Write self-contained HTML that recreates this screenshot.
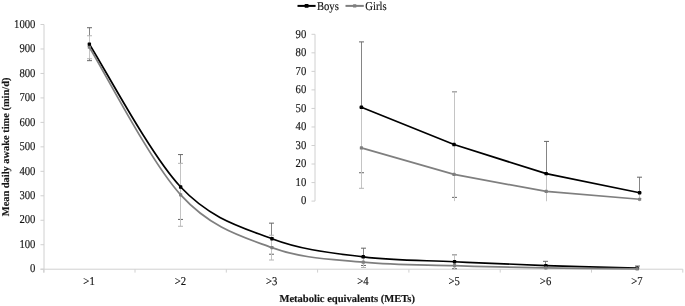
<!DOCTYPE html>
<html><head><meta charset="utf-8"><style>
html,body{margin:0;padding:0;background:#fff;width:685px;height:306px;overflow:hidden}
svg{display:block;will-change:transform;text-rendering:geometricPrecision}
</style></head><body>
<svg width="685" height="306" viewBox="0 0 685 306">
<rect width="685" height="306" fill="#fff"/>
<line x1="44.0" y1="24.5" x2="44.0" y2="272.59999999999997" stroke="#d0d0d0" stroke-width="1"/>
<line x1="40.5" y1="269.2" x2="682.8" y2="269.2" stroke="#d0d0d0" stroke-width="1"/>
<line x1="40.5" y1="269.20" x2="44.0" y2="269.20" stroke="#d0d0d0" stroke-width="1"/>
<text transform="translate(35.40,272.40) scale(0.89,1)" text-anchor="end" style="font-family:'Liberation Serif',serif;font-size:12.0px" fill="#141414" stroke="#141414" stroke-width="0.15">0</text>
<line x1="40.5" y1="244.73" x2="44.0" y2="244.73" stroke="#d0d0d0" stroke-width="1"/>
<text transform="translate(35.40,247.93) scale(0.89,1)" text-anchor="end" style="font-family:'Liberation Serif',serif;font-size:12.0px" fill="#141414" stroke="#141414" stroke-width="0.15">100</text>
<line x1="40.5" y1="220.26" x2="44.0" y2="220.26" stroke="#d0d0d0" stroke-width="1"/>
<text transform="translate(35.40,223.46) scale(0.89,1)" text-anchor="end" style="font-family:'Liberation Serif',serif;font-size:12.0px" fill="#141414" stroke="#141414" stroke-width="0.15">200</text>
<line x1="40.5" y1="195.79" x2="44.0" y2="195.79" stroke="#d0d0d0" stroke-width="1"/>
<text transform="translate(35.40,198.99) scale(0.89,1)" text-anchor="end" style="font-family:'Liberation Serif',serif;font-size:12.0px" fill="#141414" stroke="#141414" stroke-width="0.15">300</text>
<line x1="40.5" y1="171.32" x2="44.0" y2="171.32" stroke="#d0d0d0" stroke-width="1"/>
<text transform="translate(35.40,174.52) scale(0.89,1)" text-anchor="end" style="font-family:'Liberation Serif',serif;font-size:12.0px" fill="#141414" stroke="#141414" stroke-width="0.15">400</text>
<line x1="40.5" y1="146.85" x2="44.0" y2="146.85" stroke="#d0d0d0" stroke-width="1"/>
<text transform="translate(35.40,150.05) scale(0.89,1)" text-anchor="end" style="font-family:'Liberation Serif',serif;font-size:12.0px" fill="#141414" stroke="#141414" stroke-width="0.15">500</text>
<line x1="40.5" y1="122.38" x2="44.0" y2="122.38" stroke="#d0d0d0" stroke-width="1"/>
<text transform="translate(35.40,125.58) scale(0.89,1)" text-anchor="end" style="font-family:'Liberation Serif',serif;font-size:12.0px" fill="#141414" stroke="#141414" stroke-width="0.15">600</text>
<line x1="40.5" y1="97.91" x2="44.0" y2="97.91" stroke="#d0d0d0" stroke-width="1"/>
<text transform="translate(35.40,101.11) scale(0.89,1)" text-anchor="end" style="font-family:'Liberation Serif',serif;font-size:12.0px" fill="#141414" stroke="#141414" stroke-width="0.15">700</text>
<line x1="40.5" y1="73.44" x2="44.0" y2="73.44" stroke="#d0d0d0" stroke-width="1"/>
<text transform="translate(35.40,76.64) scale(0.89,1)" text-anchor="end" style="font-family:'Liberation Serif',serif;font-size:12.0px" fill="#141414" stroke="#141414" stroke-width="0.15">800</text>
<line x1="40.5" y1="48.97" x2="44.0" y2="48.97" stroke="#d0d0d0" stroke-width="1"/>
<text transform="translate(35.40,52.17) scale(0.89,1)" text-anchor="end" style="font-family:'Liberation Serif',serif;font-size:12.0px" fill="#141414" stroke="#141414" stroke-width="0.15">900</text>
<line x1="40.5" y1="24.50" x2="44.0" y2="24.50" stroke="#d0d0d0" stroke-width="1"/>
<text transform="translate(35.40,27.70) scale(0.89,1)" text-anchor="end" style="font-family:'Liberation Serif',serif;font-size:12.0px" fill="#141414" stroke="#141414" stroke-width="0.15">1000</text>
<line x1="43.70" y1="269.2" x2="43.70" y2="272.59999999999997" stroke="#d0d0d0" stroke-width="1"/>
<line x1="135.00" y1="269.2" x2="135.00" y2="272.59999999999997" stroke="#d0d0d0" stroke-width="1"/>
<line x1="226.30" y1="269.2" x2="226.30" y2="272.59999999999997" stroke="#d0d0d0" stroke-width="1"/>
<line x1="317.60" y1="269.2" x2="317.60" y2="272.59999999999997" stroke="#d0d0d0" stroke-width="1"/>
<line x1="408.90" y1="269.2" x2="408.90" y2="272.59999999999997" stroke="#d0d0d0" stroke-width="1"/>
<line x1="500.20" y1="269.2" x2="500.20" y2="272.59999999999997" stroke="#d0d0d0" stroke-width="1"/>
<line x1="591.50" y1="269.2" x2="591.50" y2="272.59999999999997" stroke="#d0d0d0" stroke-width="1"/>
<line x1="682.80" y1="269.2" x2="682.80" y2="272.59999999999997" stroke="#d0d0d0" stroke-width="1"/>
<text transform="translate(89.05,284.90) scale(0.89,1)" text-anchor="middle" style="font-family:'Liberation Serif',serif;font-size:12.0px" fill="#141414" stroke="#141414" stroke-width="0.15">&gt;1</text>
<text transform="translate(180.35,284.90) scale(0.89,1)" text-anchor="middle" style="font-family:'Liberation Serif',serif;font-size:12.0px" fill="#141414" stroke="#141414" stroke-width="0.15">&gt;2</text>
<text transform="translate(271.65,284.90) scale(0.89,1)" text-anchor="middle" style="font-family:'Liberation Serif',serif;font-size:12.0px" fill="#141414" stroke="#141414" stroke-width="0.15">&gt;3</text>
<text transform="translate(362.95,284.90) scale(0.89,1)" text-anchor="middle" style="font-family:'Liberation Serif',serif;font-size:12.0px" fill="#141414" stroke="#141414" stroke-width="0.15">&gt;4</text>
<text transform="translate(454.25,284.90) scale(0.89,1)" text-anchor="middle" style="font-family:'Liberation Serif',serif;font-size:12.0px" fill="#141414" stroke="#141414" stroke-width="0.15">&gt;5</text>
<text transform="translate(545.55,284.90) scale(0.89,1)" text-anchor="middle" style="font-family:'Liberation Serif',serif;font-size:12.0px" fill="#141414" stroke="#141414" stroke-width="0.15">&gt;6</text>
<text transform="translate(636.85,284.90) scale(0.89,1)" text-anchor="middle" style="font-family:'Liberation Serif',serif;font-size:12.0px" fill="#141414" stroke="#141414" stroke-width="0.15">&gt;7</text>
<text x="347.2" y="302.3" text-anchor="middle" style="font-family:'Liberation Serif',serif;font-size:10.55px;font-weight:bold" fill="#141414" stroke="#141414" stroke-width="0.15">Metabolic equivalents (METs)</text>
<text transform="translate(9.4,146.9) rotate(-90)" text-anchor="middle" style="font-family:'Liberation Serif',serif;font-size:10.4px;font-weight:bold" fill="#141414" stroke="#141414" stroke-width="0.15">Mean daily awake time (min/d)</text>
<line x1="89.50" y1="27.73" x2="89.50" y2="60.67" stroke="#858585" stroke-width="1"/><line x1="87.00" y1="27.73" x2="92.00" y2="27.73" stroke="#666666" stroke-width="1"/><line x1="87.00" y1="60.67" x2="92.00" y2="60.67" stroke="#666666" stroke-width="1"/>
<line x1="180.50" y1="154.58" x2="180.50" y2="219.43" stroke="#858585" stroke-width="1"/><line x1="178.00" y1="154.58" x2="183.00" y2="154.58" stroke="#666666" stroke-width="1"/><line x1="178.00" y1="219.43" x2="183.00" y2="219.43" stroke="#666666" stroke-width="1"/>
<line x1="271.50" y1="223.15" x2="271.50" y2="254.22" stroke="#858585" stroke-width="1"/><line x1="269.00" y1="223.15" x2="274.00" y2="223.15" stroke="#666666" stroke-width="1"/><line x1="269.00" y1="254.22" x2="274.00" y2="254.22" stroke="#666666" stroke-width="1"/>
<line x1="363.50" y1="248.18" x2="363.50" y2="265.46" stroke="#858585" stroke-width="1"/><line x1="361.00" y1="248.18" x2="366.00" y2="248.18" stroke="#666666" stroke-width="1"/><line x1="361.00" y1="265.46" x2="366.00" y2="265.46" stroke="#666666" stroke-width="1"/>
<line x1="454.50" y1="254.76" x2="454.50" y2="268.71" stroke="#858585" stroke-width="1"/><line x1="452.00" y1="254.76" x2="457.00" y2="254.76" stroke="#666666" stroke-width="1"/><line x1="452.00" y1="268.71" x2="457.00" y2="268.71" stroke="#666666" stroke-width="1"/>
<line x1="545.50" y1="261.32" x2="545.50" y2="269.20" stroke="#858585" stroke-width="1"/><line x1="543.00" y1="261.32" x2="548.00" y2="261.32" stroke="#666666" stroke-width="1"/>
<line x1="637.50" y1="266.04" x2="637.50" y2="269.20" stroke="#858585" stroke-width="1"/><line x1="635.00" y1="266.04" x2="640.00" y2="266.04" stroke="#666666" stroke-width="1"/>
<line x1="89.50" y1="35.76" x2="89.50" y2="58.76" stroke="#c4c4c4" stroke-width="1"/><line x1="87.00" y1="35.76" x2="92.00" y2="35.76" stroke="#b4b4b4" stroke-width="1"/><line x1="87.00" y1="58.76" x2="92.00" y2="58.76" stroke="#b4b4b4" stroke-width="1"/>
<line x1="180.50" y1="163.34" x2="180.50" y2="226.28" stroke="#c4c4c4" stroke-width="1"/><line x1="178.00" y1="163.34" x2="183.00" y2="163.34" stroke="#b4b4b4" stroke-width="1"/><line x1="178.00" y1="226.28" x2="183.00" y2="226.28" stroke="#b4b4b4" stroke-width="1"/>
<line x1="271.50" y1="235.24" x2="271.50" y2="260.00" stroke="#c4c4c4" stroke-width="1"/><line x1="269.00" y1="235.24" x2="274.00" y2="235.24" stroke="#b4b4b4" stroke-width="1"/><line x1="269.00" y1="260.00" x2="274.00" y2="260.00" stroke="#b4b4b4" stroke-width="1"/>
<line x1="363.50" y1="256.84" x2="363.50" y2="267.51" stroke="#c4c4c4" stroke-width="1"/><line x1="361.00" y1="256.84" x2="366.00" y2="256.84" stroke="#b4b4b4" stroke-width="1"/><line x1="361.00" y1="267.51" x2="366.00" y2="267.51" stroke="#b4b4b4" stroke-width="1"/>
<line x1="454.50" y1="254.76" x2="454.50" y2="269.20" stroke="#c4c4c4" stroke-width="1"/><line x1="452.00" y1="254.76" x2="457.00" y2="254.76" stroke="#b4b4b4" stroke-width="1"/>
<line x1="545.50" y1="265.58" x2="545.50" y2="269.20" stroke="#c4c4c4" stroke-width="1"/><line x1="543.00" y1="265.58" x2="548.00" y2="265.58" stroke="#b4b4b4" stroke-width="1"/>
<line x1="637.50" y1="268.10" x2="637.50" y2="269.20" stroke="#c4c4c4" stroke-width="1"/><line x1="635.00" y1="268.10" x2="640.00" y2="268.10" stroke="#b4b4b4" stroke-width="1"/>
<path d="M89.35,44.20 C104.57,68.00 150.22,154.59 180.65,187.01 C211.08,219.42 241.52,227.05 271.95,238.69 C302.38,250.32 332.82,252.98 363.25,256.82 C393.68,260.66 424.12,260.28 454.55,261.74 C484.98,263.20 515.42,264.52 545.85,265.58 C576.28,266.64 621.93,267.68 637.15,268.10" fill="none" stroke="#000" stroke-width="1.7"/>
<rect x="87.65" y="42.50" width="3.4" height="3.4" rx="0.6" fill="#000"/>
<rect x="178.95" y="185.31" width="3.4" height="3.4" rx="0.6" fill="#000"/>
<rect x="270.25" y="236.99" width="3.4" height="3.4" rx="0.6" fill="#000"/>
<rect x="361.55" y="255.12" width="3.4" height="3.4" rx="0.6" fill="#000"/>
<rect x="452.85" y="260.04" width="3.4" height="3.4" rx="0.6" fill="#000"/>
<rect x="544.15" y="263.88" width="3.4" height="3.4" rx="0.6" fill="#000"/>
<rect x="635.45" y="266.40" width="3.4" height="3.4" rx="0.6" fill="#000"/>
<path d="M89.35,47.26 C104.57,71.85 150.22,161.42 180.65,194.81 C211.08,228.20 241.52,236.39 271.95,247.62 C302.38,258.85 332.82,259.17 363.25,262.18 C393.68,265.19 424.12,264.72 454.55,265.68 C484.98,266.63 515.42,267.38 545.85,267.93 C576.28,268.47 621.93,268.78 637.15,268.96" fill="none" stroke="#7f7f7f" stroke-width="1.75"/>
<rect x="87.75" y="45.66" width="3.2" height="3.2" rx="0.6" fill="#7f7f7f"/>
<rect x="179.05" y="193.21" width="3.2" height="3.2" rx="0.6" fill="#7f7f7f"/>
<rect x="270.35" y="246.02" width="3.2" height="3.2" rx="0.6" fill="#7f7f7f"/>
<rect x="361.65" y="260.58" width="3.2" height="3.2" rx="0.6" fill="#7f7f7f"/>
<rect x="452.95" y="264.08" width="3.2" height="3.2" rx="0.6" fill="#7f7f7f"/>
<rect x="544.25" y="266.33" width="3.2" height="3.2" rx="0.6" fill="#7f7f7f"/>
<rect x="635.55" y="267.36" width="3.2" height="3.2" rx="0.6" fill="#7f7f7f"/>
<rect x="316.0" y="30" width="370.0" height="175" fill="#fff"/>
<line x1="315.0" y1="34.3" x2="315.0" y2="201.1" stroke="#d0d0d0" stroke-width="1"/>
<line x1="311.5" y1="201.10" x2="315.0" y2="201.10" stroke="#d0d0d0" stroke-width="1"/>
<text transform="translate(306.30,204.30) scale(0.89,1)" text-anchor="end" style="font-family:'Liberation Serif',serif;font-size:12.0px" fill="#141414" stroke="#141414" stroke-width="0.15">0</text>
<line x1="311.5" y1="182.57" x2="315.0" y2="182.57" stroke="#d0d0d0" stroke-width="1"/>
<text transform="translate(306.30,185.77) scale(0.89,1)" text-anchor="end" style="font-family:'Liberation Serif',serif;font-size:12.0px" fill="#141414" stroke="#141414" stroke-width="0.15">10</text>
<line x1="311.5" y1="164.03" x2="315.0" y2="164.03" stroke="#d0d0d0" stroke-width="1"/>
<text transform="translate(306.30,167.23) scale(0.89,1)" text-anchor="end" style="font-family:'Liberation Serif',serif;font-size:12.0px" fill="#141414" stroke="#141414" stroke-width="0.15">20</text>
<line x1="311.5" y1="145.50" x2="315.0" y2="145.50" stroke="#d0d0d0" stroke-width="1"/>
<text transform="translate(306.30,148.70) scale(0.89,1)" text-anchor="end" style="font-family:'Liberation Serif',serif;font-size:12.0px" fill="#141414" stroke="#141414" stroke-width="0.15">30</text>
<line x1="311.5" y1="126.97" x2="315.0" y2="126.97" stroke="#d0d0d0" stroke-width="1"/>
<text transform="translate(306.30,130.17) scale(0.89,1)" text-anchor="end" style="font-family:'Liberation Serif',serif;font-size:12.0px" fill="#141414" stroke="#141414" stroke-width="0.15">40</text>
<line x1="311.5" y1="108.43" x2="315.0" y2="108.43" stroke="#d0d0d0" stroke-width="1"/>
<text transform="translate(306.30,111.63) scale(0.89,1)" text-anchor="end" style="font-family:'Liberation Serif',serif;font-size:12.0px" fill="#141414" stroke="#141414" stroke-width="0.15">50</text>
<line x1="311.5" y1="89.90" x2="315.0" y2="89.90" stroke="#d0d0d0" stroke-width="1"/>
<text transform="translate(306.30,93.10) scale(0.89,1)" text-anchor="end" style="font-family:'Liberation Serif',serif;font-size:12.0px" fill="#141414" stroke="#141414" stroke-width="0.15">60</text>
<line x1="311.5" y1="71.37" x2="315.0" y2="71.37" stroke="#d0d0d0" stroke-width="1"/>
<text transform="translate(306.30,74.57) scale(0.89,1)" text-anchor="end" style="font-family:'Liberation Serif',serif;font-size:12.0px" fill="#141414" stroke="#141414" stroke-width="0.15">70</text>
<line x1="311.5" y1="52.83" x2="315.0" y2="52.83" stroke="#d0d0d0" stroke-width="1"/>
<text transform="translate(306.30,56.03) scale(0.89,1)" text-anchor="end" style="font-family:'Liberation Serif',serif;font-size:12.0px" fill="#141414" stroke="#141414" stroke-width="0.15">80</text>
<line x1="311.5" y1="34.30" x2="315.0" y2="34.30" stroke="#d0d0d0" stroke-width="1"/>
<text transform="translate(306.30,37.50) scale(0.89,1)" text-anchor="end" style="font-family:'Liberation Serif',serif;font-size:12.0px" fill="#141414" stroke="#141414" stroke-width="0.15">90</text>
<line x1="361.50" y1="41.90" x2="361.50" y2="172.74" stroke="#858585" stroke-width="1"/><line x1="359.00" y1="41.90" x2="364.00" y2="41.90" stroke="#666666" stroke-width="1"/><line x1="359.00" y1="172.74" x2="364.00" y2="172.74" stroke="#666666" stroke-width="1"/>
<line x1="454.50" y1="91.75" x2="454.50" y2="197.39" stroke="#858585" stroke-width="1"/><line x1="452.00" y1="91.75" x2="457.00" y2="91.75" stroke="#666666" stroke-width="1"/><line x1="452.00" y1="197.39" x2="457.00" y2="197.39" stroke="#666666" stroke-width="1"/>
<line x1="546.50" y1="141.42" x2="546.50" y2="201.10" stroke="#858585" stroke-width="1"/><line x1="544.00" y1="141.42" x2="549.00" y2="141.42" stroke="#666666" stroke-width="1"/>
<line x1="639.50" y1="177.19" x2="639.50" y2="201.10" stroke="#858585" stroke-width="1"/><line x1="637.00" y1="177.19" x2="642.00" y2="177.19" stroke="#666666" stroke-width="1"/>
<line x1="361.50" y1="107.51" x2="361.50" y2="188.31" stroke="#c4c4c4" stroke-width="1"/><line x1="359.00" y1="107.51" x2="364.00" y2="107.51" stroke="#b4b4b4" stroke-width="1"/><line x1="359.00" y1="188.31" x2="364.00" y2="188.31" stroke="#b4b4b4" stroke-width="1"/>
<line x1="454.50" y1="91.75" x2="454.50" y2="201.10" stroke="#c4c4c4" stroke-width="1"/><line x1="452.00" y1="91.75" x2="457.00" y2="91.75" stroke="#b4b4b4" stroke-width="1"/>
<line x1="546.50" y1="173.67" x2="546.50" y2="201.10" stroke="#c4c4c4" stroke-width="1"/><line x1="544.00" y1="173.67" x2="549.00" y2="173.67" stroke="#b4b4b4" stroke-width="1"/>
<line x1="639.50" y1="192.76" x2="639.50" y2="201.10" stroke="#c4c4c4" stroke-width="1"/><line x1="637.00" y1="192.76" x2="642.00" y2="192.76" stroke="#b4b4b4" stroke-width="1"/>
<path d="M361.40,107.32 L454.00,144.57 L546.20,173.67 L639.60,192.76" fill="none" stroke="#000" stroke-width="1.7"/>
<rect x="359.70" y="105.62" width="3.4" height="3.4" rx="0.6" fill="#000"/>
<rect x="452.30" y="142.87" width="3.4" height="3.4" rx="0.6" fill="#000"/>
<rect x="544.50" y="171.97" width="3.4" height="3.4" rx="0.6" fill="#000"/>
<rect x="637.90" y="191.06" width="3.4" height="3.4" rx="0.6" fill="#000"/>
<path d="M361.40,147.91 L454.00,174.41 L546.20,191.46 L639.60,199.25" fill="none" stroke="#7f7f7f" stroke-width="1.75"/>
<rect x="359.80" y="146.31" width="3.2" height="3.2" rx="0.6" fill="#7f7f7f"/>
<rect x="452.40" y="172.81" width="3.2" height="3.2" rx="0.6" fill="#7f7f7f"/>
<rect x="544.60" y="189.86" width="3.2" height="3.2" rx="0.6" fill="#7f7f7f"/>
<rect x="638.00" y="197.65" width="3.2" height="3.2" rx="0.6" fill="#7f7f7f"/>
<line x1="297.5" y1="5.9" x2="315.6" y2="5.9" stroke="#000" stroke-width="2"/>
<rect x="304.70" y="4.00" width="3.8" height="3.8" rx="0.6" fill="#000"/>
<text transform="translate(316.90,9.50) scale(0.89,1)" text-anchor="start" style="font-family:'Liberation Serif',serif;font-size:12.0px" fill="#141414" stroke="#141414" stroke-width="0.15">Boys</text>
<line x1="345.5" y1="5.9" x2="363.8" y2="5.9" stroke="#7f7f7f" stroke-width="2"/>
<rect x="353.00" y="4.20" width="3.4" height="3.4" rx="0.6" fill="#7f7f7f"/>
<text transform="translate(365.30,9.50) scale(0.89,1)" text-anchor="start" style="font-family:'Liberation Serif',serif;font-size:12.0px" fill="#141414" stroke="#141414" stroke-width="0.15">Girls</text>
</svg>
</body></html>
